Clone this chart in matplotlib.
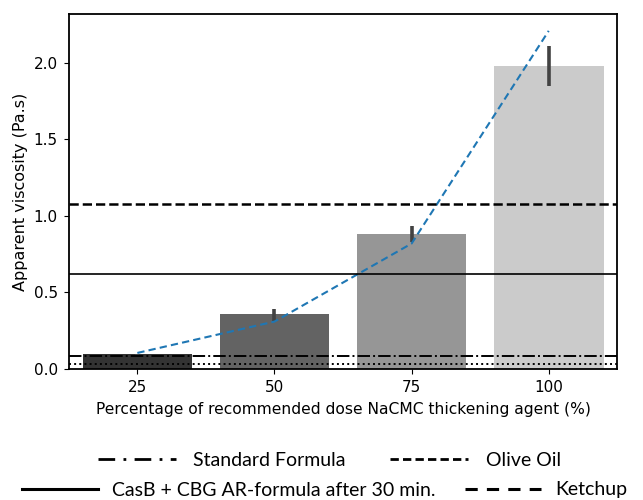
import matplotlib
matplotlib.use("Agg")
import matplotlib.pyplot as plt
from matplotlib.lines import Line2D

# NaCMC dose levels and measured viscosity
doses = ["25", "50", "75", "100"]
viscosity = [0.095, 0.36, 0.885, 1.98]
err_low = [0.09, 0.315, 0.83, 1.85]
err_high = [0.10, 0.39, 0.935, 2.11]
trend = [0.105, 0.31, 0.82, 2.21]
bar_colors = ["#333333", "#636363", "#969696", "#cbcbcb"]

# reference fluids (Pa.s)
standard_formula = 0.085
olive_oil = 0.035
casb_cbg_30min = 0.62
ketchup = 1.08

fig = plt.figure(figsize=(6.43, 5.0), dpi=100)
ax = fig.add_axes([0.107, 0.262, 0.853, 0.71])

x = list(range(len(doses)))
ax.bar(x, viscosity, width=0.8, color=bar_colors)
for xi, lo, hi in zip(x, err_low, err_high):
    ax.plot([xi, xi], [lo, hi], color="#424242", lw=2.6, solid_capstyle="butt")

ax.plot(x, trend, ls=(0, (3.5, 2)), color="#1f77b4", lw=1.5)

ax.axhline(standard_formula, color="black", ls="-.", lw=1.4)
ax.axhline(olive_oil, color="black", ls=":", lw=1.4)
ax.axhline(casb_cbg_30min, color="black", ls="-", lw=1.2)
ax.axhline(ketchup, color="black", ls="--", lw=1.8)

ax.set_xlim(-0.5, 3.5)
ax.set_ylim(0, 2.32)
ax.set_xticks(x)
ax.set_xticklabels(doses)
ax.set_yticks([0.0, 0.5, 1.0, 1.5, 2.0])
ax.tick_params(labelsize=11, pad=4.5)
ax.set_xlabel("Percentage of recommended dose NaCMC thickening agent (%)",
              fontsize=11.2, labelpad=5)
ax.set_ylabel("Apparent viscosity (Pa.s)", fontsize=11.5)
for s in ax.spines.values():
    s.set_linewidth(1.3)

# legend rows drawn below the axes
leg_font = {"family": "Lato", "size": 14}
row1 = [Line2D([], [], color="black", ls=(0, (6, 3, 1, 3)), lw=2),
        Line2D([], [], color="black", ls=(0, (3, 1.5)), lw=2)]
row2 = [Line2D([], [], color="black", ls="-", lw=2.2),
        Line2D([], [], color="black", ls=(0, (4, 3)), lw=2.2)]
leg1 = fig.legend(row1, ["Standard Formula", "Olive Oil"], ncol=2, frameon=False,
                  loc="center", bbox_to_anchor=(0.512, 0.079), prop=leg_font,
                  handlelength=4.0, columnspacing=2.3, handletextpad=0.9)
leg2 = fig.legend(row2, ["CasB + CBG AR-formula after 30 min.", "Ketchup"], ncol=2,
                  frameon=False, loc="center", bbox_to_anchor=(0.505, 0.02),
                  prop=leg_font, handlelength=3.9, columnspacing=1.5,
                  handletextpad=0.75)

fig.savefig("out.png", dpi=100)
